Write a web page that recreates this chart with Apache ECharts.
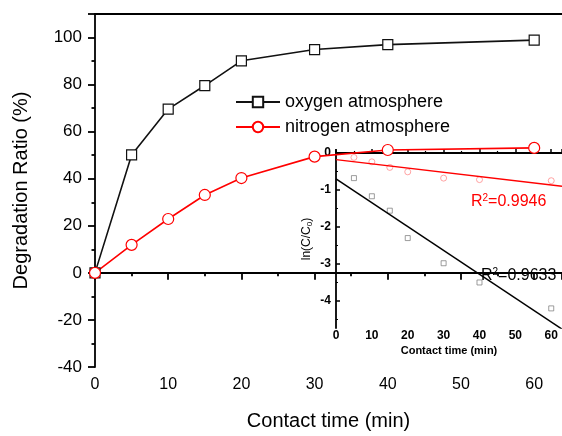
<!DOCTYPE html>
<html>
<head>
<meta charset="utf-8">
<script src="https://cdn.jsdelivr.net/npm/echarts@6/dist/echarts.min.js"></script>
<style>html,body{margin:0;padding:0;background:#fff}#c{width:562px;height:436px}</style>
</head>
<body>
<div id="c"></div>
<script>
// ---- main chart data ----
var timeMain = [0, 5, 10, 15, 20, 30, 40, 60];
var oxygenRatio = [0, 50.1, 69.6, 79.6, 90.1, 94.9, 97.0, 98.9];
var nitrogenRatio = [0, 11.9, 22.9, 33.1, 40.3, 49.4, 52.2, 53.1];
// ---- inset data ----
var timeInset = [5, 10, 15, 20, 30, 40, 60];
var lnOxygen = [-0.68, -1.17, -1.56, -2.30, -2.98, -3.50, -4.20];
var lnNitrogen = [-0.12, -0.24, -0.39, -0.51, -0.68, -0.72, -0.75];
var fitOxygen = [[0, -0.70], [63, -4.76]];
var fitNitrogen = [[0, -0.18], [63, -0.90]];
var insetYLabels = [0, -1, -2, -3, -4];
var insetYMinor = [-0.5, -1.5, -2.5, -3.5, -4.5];
var r2Oxygen = '0.9633';
var r2Nitrogen = '0.9946';

var FF = "'Liberation Sans', Arial, sans-serif";
function pairs(xs, ys) { return xs.map(function (x, i) { return [x, ys[i]]; }); }

var chart = echarts.init(document.getElementById('c'), null, { renderer: 'canvas' });
var option = {
  animation: false,
  backgroundColor: '#fff',
  textStyle: { fontFamily: FF },
  grid: [
    { left: 95, top: 14, right: 0, bottom: 68 },
    { left: 336, top: 150, right: 0, bottom: 108 }
  ],
  title: [
    {
      left: 471, top: 193, padding: 0,
      text: '{a|R}{b|2}{a|=' + r2Nitrogen + '}',
      textStyle: { rich: {
        a: { fontSize: 16, fontWeight: 'normal', color: '#ff0000', fontFamily: FF, lineHeight: 18 },
        b: { fontSize: 10, fontWeight: 'normal', color: '#ff0000', fontFamily: FF, verticalAlign: 'top', lineHeight: 10 }
      } }
    },
    {
      left: 481, top: 267, padding: 0,
      text: '{a|R}{b|2}{a|=' + r2Oxygen + '}',
      textStyle: { rich: {
        a: { fontSize: 16, fontWeight: 'normal', color: '#000', fontFamily: FF, lineHeight: 18 },
        b: { fontSize: 10, fontWeight: 'normal', color: '#000', fontFamily: FF, verticalAlign: 'top', lineHeight: 10 }
      } }
    }
  ],
  legend: {
    orient: 'vertical', left: 235, top: 93, padding: 0, itemWidth: 44, itemHeight: 13, itemGap: 7,
    textStyle: { fontSize: 18, color: '#000', fontFamily: FF },
    data: ['oxygen atmosphere', 'nitrogen atmosphere']
  },
  xAxis: [
    {
      gridIndex: 0, type: 'value', min: 0, max: 63.8, interval: 10,
      name: 'Contact time (min)', nameLocation: 'middle', nameGap: 44,
      nameTextStyle: { fontSize: 20, color: '#000', fontFamily: FF },
      axisLine: { lineStyle: { color: '#000', width: 1.8 } },
      axisTick: { length: 7, lineStyle: { color: '#000', width: 1.8 } },
      minorTick: { show: true, splitNumber: 2, length: 3.5, lineStyle: { color: '#000', width: 1.8 } },
      axisLabel: { fontSize: 16, color: '#000', margin: 10, showMaxLabel: false, fontFamily: FF },
      splitLine: { show: false }
    },
    {
      gridIndex: 0, type: 'value', position: 'top', min: 0, max: 63.8,
      axisLine: { lineStyle: { color: '#000', width: 1.8 } },
      axisTick: { show: false }, axisLabel: { show: false }, splitLine: { show: false }
    },
    {
      gridIndex: 1, type: 'value', min: 0, max: 63, interval: 10,
      name: 'Contact time (min)', nameLocation: 'middle', nameGap: 17,
      nameTextStyle: { fontSize: 11, fontWeight: 'bold', color: '#000', fontFamily: FF },
      axisLine: { lineStyle: { color: '#000', width: 1.8 } },
      axisTick: { inside: true, length: 4, lineStyle: { color: '#000', width: 1.5 } },
      minorTick: { show: true, splitNumber: 2, length: 2, lineStyle: { color: '#000', width: 1.2 } },
      axisLabel: { fontSize: 12, fontWeight: 'bold', color: '#000', margin: 2, showMaxLabel: false, fontFamily: FF },
      splitLine: { show: false }
    }
  ],
  yAxis: [
    {
      gridIndex: 0, type: 'value', min: -40, max: 110, interval: 20,
      name: 'Degradation Ratio (%)', nameLocation: 'middle', nameGap: 64,
      nameTextStyle: { fontSize: 20, color: '#000', fontFamily: FF },
      axisLine: { lineStyle: { color: '#000', width: 1.8 } },
      axisTick: { length: 7, lineStyle: { color: '#000', width: 1.8 } },
      minorTick: { show: true, splitNumber: 2, length: 3.5, lineStyle: { color: '#000', width: 1.8 } },
      axisLabel: { fontSize: 17, color: '#000', margin: 13, showMaxLabel: false, fontFamily: FF },
      splitLine: { show: false }
    },
    {
      gridIndex: 1, type: 'value', min: -4.73, max: 0.08,
      name: '{a|ln(C/C}{b|0}{a|)}', nameLocation: 'middle', nameGap: 22,
      nameTextStyle: { rich: {
        a: { fontSize: 12, color: '#000', fontFamily: FF, lineHeight: 14 },
        b: { fontSize: 8, color: '#000', fontFamily: FF, verticalAlign: 'bottom', lineHeight: 8 }
      } },
      axisLine: { lineStyle: { color: '#000', width: 1.8 } },
      axisTick: { inside: true, length: 4, customValues: insetYLabels, lineStyle: { color: '#000', width: 1.5 } },
      axisLabel: { fontSize: 12, fontWeight: 'bold', color: '#000', margin: 5, customValues: insetYLabels, fontFamily: FF },
      splitLine: { show: false }
    },
    {
      gridIndex: 1, type: 'value', min: -4.73, max: 0.08, position: 'left',
      axisLine: { show: false },
      axisTick: { inside: true, length: 2, customValues: insetYMinor, lineStyle: { color: '#000', width: 1.2 } },
      axisLabel: { show: false }, splitLine: { show: false }
    }
  ],
  series: [
    {
      name: 'fitO', type: 'line', xAxisIndex: 2, yAxisIndex: 1, data: fitOxygen,
      showSymbol: false, lineStyle: { color: '#000', width: 1.5 }, silent: true
    },
    {
      name: 'fitN', type: 'line', xAxisIndex: 2, yAxisIndex: 1, data: fitNitrogen,
      showSymbol: false, lineStyle: { color: '#ff0000', width: 1.5 }, silent: true
    },
    {
      name: 'lnO', type: 'scatter', xAxisIndex: 2, yAxisIndex: 1, data: pairs(timeInset, lnOxygen),
      symbol: 'rect', symbolSize: 5,
      itemStyle: { color: '#fff', borderColor: '#777', borderWidth: 0.9 }
    },
    {
      name: 'lnN', type: 'scatter', xAxisIndex: 2, yAxisIndex: 1, data: pairs(timeInset, lnNitrogen),
      symbol: 'circle', symbolSize: 6,
      itemStyle: { color: '#fff', borderColor: '#ff8080', borderWidth: 0.9 }
    },
    {
      name: 'oxygen atmosphere', type: 'line', xAxisIndex: 0, yAxisIndex: 0,
      data: pairs(timeMain, oxygenRatio), z: 5,
      symbol: 'rect', symbolSize: 10, showAllSymbol: true,
      lineStyle: { color: '#111', width: 1.6 },
      itemStyle: { color: '#fff', borderColor: '#111', borderWidth: 1.2 }
    },
    {
      name: 'nitrogen atmosphere', type: 'line', xAxisIndex: 0, yAxisIndex: 0,
      data: pairs(timeMain, nitrogenRatio), z: 5,
      symbol: 'circle', symbolSize: 11, showAllSymbol: true,
      lineStyle: { color: '#ff0000', width: 1.6 },
      itemStyle: { color: '#fff', borderColor: '#ff0000', borderWidth: 1.2 }
    }
  ]
};
chart.setOption(option);
</script>
</body>
</html>
